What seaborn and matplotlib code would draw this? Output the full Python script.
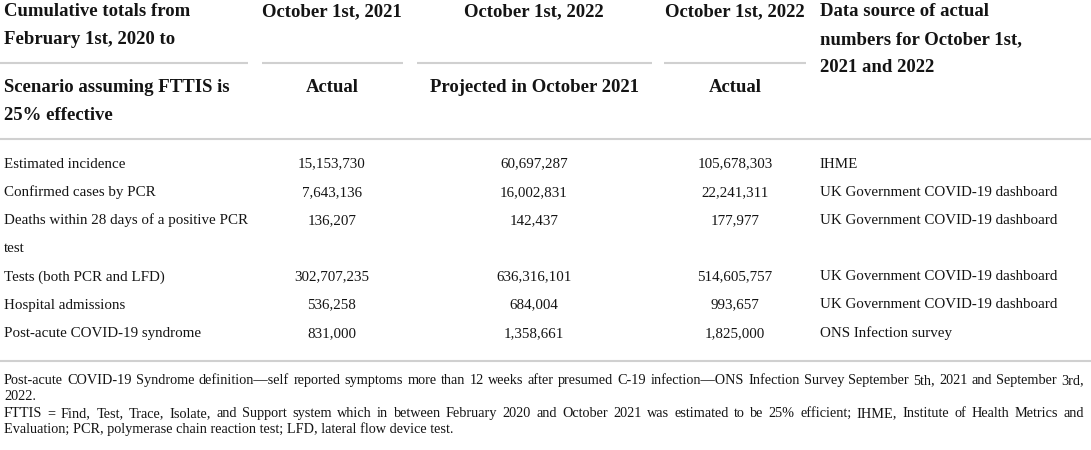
import matplotlib.pyplot as plt
import seaborn as sns

sns.set_theme(style="white")
plt.rcParams['font.family'] = ['Liberation Serif', 'DejaVu Serif']

# table content
header_left = ["Cumulative totals from\nFebruary 1st, 2020 to", "Scenario assuming FTTIS is\n25% effective"]
col_dates = ["October 1st, 2021", "October 1st, 2022", "October 1st, 2022"]
col_kinds = ["Actual", "Projected in October 2021", "Actual"]
source_header = "Data source of actual\nnumbers for October 1st,\n2021 and 2022"

row_labels = [
    "Estimated incidence",
    "Confirmed cases by PCR",
    "Deaths within 28 days of a positive PCR\ntest",
    "Tests (both PCR and LFD)",
    "Hospital admissions",
    "Post-acute COVID-19 syndrome",
]
actual_2021 = [15153730, 7643136, 136207, 302707235, 536258, 831000]
projected_2022 = [60697287, 16002831, 142437, 636316101, 684004, 1358661]
actual_2022 = [105678303, 22241311, 177977, 514605757, 993657, 1825000]
sources = [
    "IHME",
    "UK Government COVID-19 dashboard",
    "UK Government COVID-19 dashboard",
    "UK Government COVID-19 dashboard",
    "UK Government COVID-19 dashboard",
    "ONS Infection survey",
]
footnotes = [
    "Post-acute COVID-19 Syndrome definition\u2014self reported symptoms more than 12 weeks after presumed C-19 infection\u2014ONS Infection Survey September 5th, 2021 and September 3rd,",
    "2022.",
    "FTTIS = Find, Test, Trace, Isolate, and Support system which in between February 2020 and October 2021 was estimated to be 25% efficient; IHME, Institute of Health Metrics and",
    "Evaluation; PCR, polymerase chain reaction test; LFD, lateral flow device test.",
]
justified = [True, False, True, False]

W, H = 1091, 450
fig = plt.figure(figsize=(W / 100, H / 100), dpi=100)
ax = fig.add_axes([0, 0, 1, 1])
ax.set_xlim(0, W)
ax.set_ylim(H, 0)
ax.axis('off')

ink = '#141414'
rule = '#d0d0d0'
hsize = 13.5
bsize = 10.8
fsize = 10.3
step = 28

col_x = [332, 534, 735]
col_span = [(0, 248), (262, 403), (417, 652), (664, 806)]
src_x = 820

# header
for i, block in enumerate(header_left):
    for j, line in enumerate(block.split('\n')):
        ax.text(4, 12 + i * 76 + j * step, line, fontsize=hsize, fontweight='bold',
                color=ink, va='center', ha='left')
for x, d, k in zip(col_x, col_dates, col_kinds):
    ax.text(x, 12, d, fontsize=hsize, fontweight='bold', color=ink, va='center', ha='center')
    ax.text(x, 88, k, fontsize=hsize, fontweight='bold', color=ink, va='center', ha='center')
for j, line in enumerate(source_header.split('\n')):
    ax.text(src_x, 12 + j * step, line, fontsize=hsize, fontweight='bold',
            color=ink, va='center', ha='left')

for a, b in col_span:
    ax.plot([a, b], [63, 63], color=rule, lw=1.5, solid_capstyle='butt')
ax.plot([0, W], [139, 139], color=rule, lw=1.5, solid_capstyle='butt')
ax.plot([0, W], [361, 361], color=rule, lw=1.5, solid_capstyle='butt')

# body
slot = 0
for lab, v1, v2, v3, src in zip(row_labels, actual_2021, projected_2022, actual_2022, sources):
    y = 164 + slot * 28.2
    for j, line in enumerate(lab.split('\n')):
        ax.text(4, y + j * 28.2, line, fontsize=bsize, color=ink, va='center', ha='left')
    for x, v in zip(col_x, (v1, v2, v3)):
        ax.text(x, y, f"{v:,}", fontsize=bsize, color=ink, va='center', ha='center')
    ax.text(src_x, y, src, fontsize=bsize, color=ink, va='center', ha='left')
    slot += len(lab.split('\n'))

# footnotes, full lines justified to the table width word by word
renderer = fig.canvas.get_renderer()
left, right = 4, 1084
for y, line, just in zip([384, 400, 417, 433], footnotes, justified):
    if not just:
        ax.text(left, y, line, fontsize=fsize, color=ink, va='baseline', ha='left')
        continue
    words = line.split(' ')
    arts = [ax.text(0, y, w, fontsize=fsize, color=ink, va='baseline', ha='left') for w in words]
    widths = [a.get_window_extent(renderer).width for a in arts]
    gap = (right - left - sum(widths)) / (len(words) - 1)
    x = left
    for a, w in zip(arts, widths):
        a.set_x(x)
        x += w + gap

fig.savefig('out.png', dpi=100, facecolor='white')
